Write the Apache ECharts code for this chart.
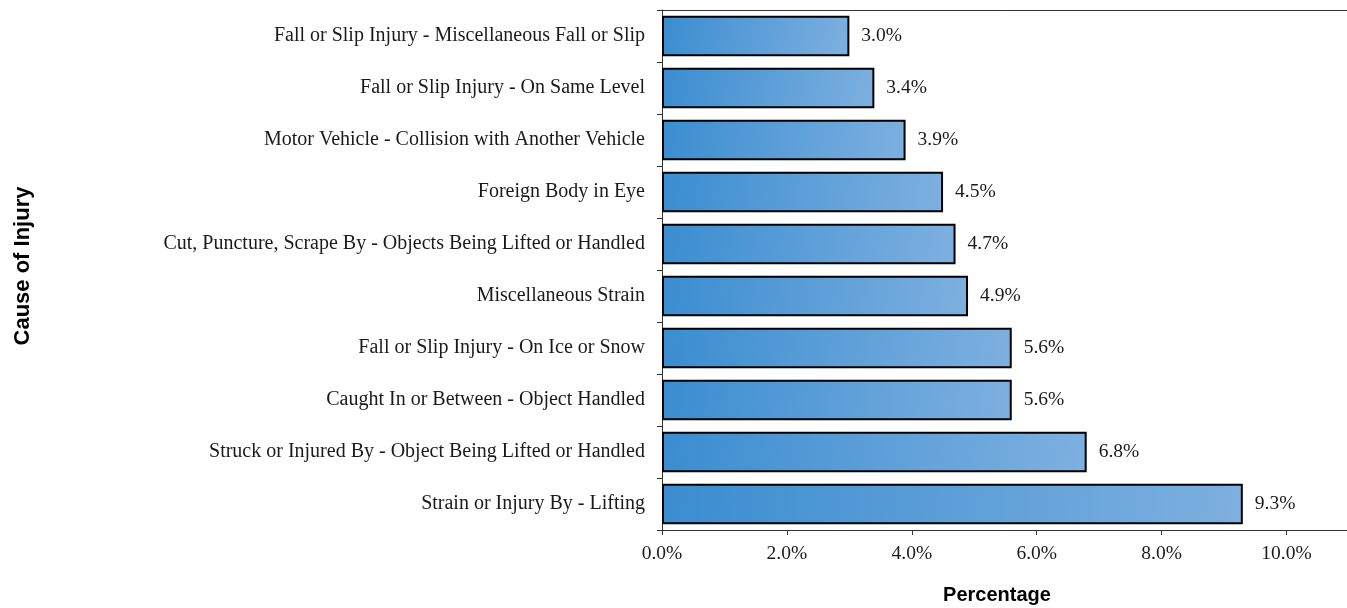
<!DOCTYPE html>
<html>
<head>
<meta charset="utf-8">
<script src="https://cdn.jsdelivr.net/npm/echarts@6/dist/echarts.min.js"></script>
<style>
  html, body { margin: 0; padding: 0; background: #fff; }
  #main { width: 1347px; height: 608px; }
</style>
</head>
<body>
<div id="main"></div>
<script>
// bottom to top, as the category axis draws them
var causes = [
  'Strain or Injury By - Lifting',
  'Struck or Injured By - Object Being Lifted or Handled',
  'Caught In or Between - Object Handled',
  'Fall or Slip Injury - On Ice or Snow',
  'Miscellaneous Strain',
  'Cut, Puncture, Scrape By - Objects Being Lifted or Handled',
  'Foreign Body in Eye',
  'Motor Vehicle - Collision with Another Vehicle',
  'Fall or Slip Injury - On Same Level',
  'Fall or Slip Injury - Miscellaneous Fall or Slip'
];
var percents = [9.3, 6.8, 5.6, 5.6, 4.9, 4.7, 4.5, 3.9, 3.4, 3.0];

(function() {
  var chartDom = document.getElementById('main');
  var myChart = echarts.init(chartDom);
  var option;

  var serif = '"Liberation Serif", "Times New Roman", serif';
  var sans = '"Liberation Sans", Arial, sans-serif';

  option = {
    animation: false,
    grid: {
      left: 662,
      right: -2,
      top: 10,
      bottom: 78,
      outerBoundsMode: 'none'
    },
    xAxis: [
      {
        type: 'value',
        min: 0,
        max: 11,
        interval: 2,
        name: 'Percentage',
        nameLocation: 'middle',
        nameGap: 55,
        nameTextStyle: {
          fontFamily: sans,
          fontWeight: 'bold',
          fontSize: 20,
          color: '#000',
          padding: [0, 17, 0, 0]
        },
        axisLine: { show: true, lineStyle: { color: '#333', width: 1 } },
        axisTick: { show: true, length: 5, lineStyle: { color: '#333' } },
        splitLine: { show: false },
        axisLabel: {
          fontFamily: serif,
          fontSize: 19.5,
          color: '#1a1a1a',
          margin: 14,
          showMaxLabel: false,
          formatter: function(v) { return v.toFixed(1) + '%'; }
        }
      },
      {
        type: 'value',
        position: 'top',
        min: 0,
        max: 11,
        axisLine: { show: true, lineStyle: { color: '#333', width: 1 } },
        axisTick: { show: false },
        axisLabel: { show: false },
        splitLine: { show: false }
      }
    ],
    yAxis: {
      type: 'category',
      data: causes,
      name: 'Cause of Injury',
      nameLocation: 'middle',
      nameRotate: 90,
      nameGap: 628,
      nameTextStyle: {
        fontFamily: sans,
        fontWeight: 'bold',
        fontSize: 22,
        color: '#000',
        padding: [0, 0, 0, 8]
      },
      axisLine: { show: true, lineStyle: { color: '#333', width: 1 } },
      axisTick: { show: true, length: 5, lineStyle: { color: '#333' } },
      axisLabel: {
        fontFamily: serif,
        fontSize: 20,
        color: '#1a1a1a',
        margin: 17
      }
    },
    series: [
      {
        type: 'bar',
        data: percents,
        barCategoryGap: '22%',
        itemStyle: {
          borderColor: '#000',
          borderWidth: 2,
          color: new echarts.graphic.LinearGradient(0, 0, 1, 1, [
            { offset: 0, color: '#3a8dd0' },
            { offset: 1, color: '#7eb0e0' }
          ])
        },
        label: {
          show: true,
          position: 'right',
          distance: 12,
          fontFamily: serif,
          fontSize: 19.5,
          color: '#1a1a1a',
          formatter: function(p) { return p.value.toFixed(1) + '%'; }
        }
      }
    ]
  };

  option && myChart.setOption(option);
  window.addEventListener('resize', function() {
    myChart.resize();
  });
})();
</script>
</body>
</html>
